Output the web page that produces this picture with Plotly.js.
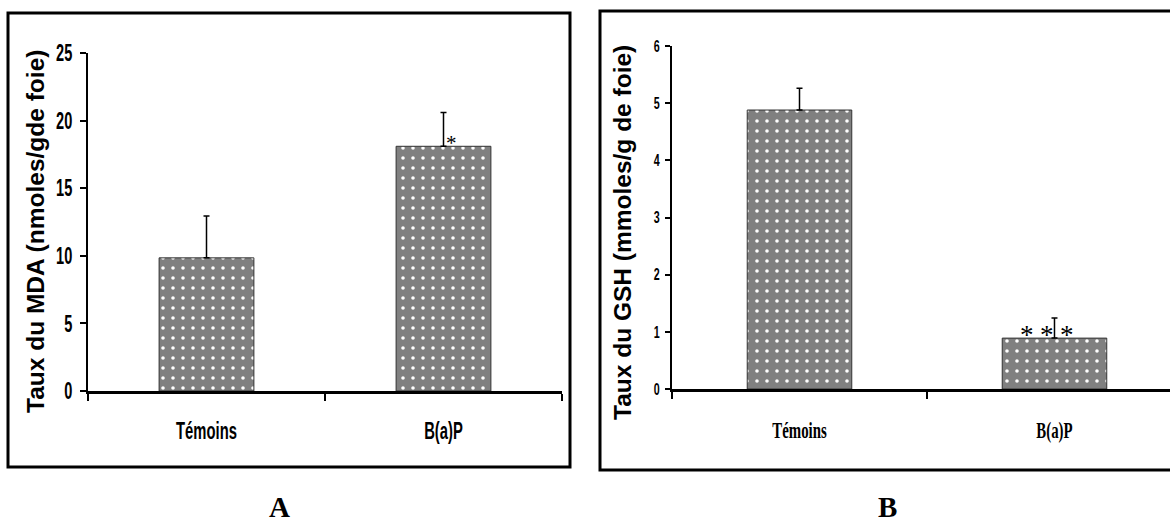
<!DOCTYPE html>
<html>
<head>
<meta charset="utf-8">
<script src="https://cdn.plot.ly/plotly-3.0.1.min.js"></script>
<style>html,body{margin:0;padding:0;background:#fff;}#chart{width:1170px;height:528px;}</style>
</head>
<body>
<div id="chart"></div>
<script>
// ---- data ----
var categories = ["Témoins", "B(a)P"];
var mdaValues = [9.85, 18.1];
var mdaErrors = [3.1, 2.5];
var gshValues = [4.88, 0.89];
var gshErrors = [0.38, 0.35];
var mdaTicks = [0, 5, 10, 15, 20, 25];
var gshTicks = [0, 1, 2, 3, 4, 5, 6];
var mdaTitle = "Taux du MDA (nmoles/gde foie)";
var gshTitle = "Taux du GSH (mmoles/g de foie)";
var panelLabels = ["A", "B"];

var W = 1170, H = 528;
function px(x) { return x / W; }
function py(y) { return (H - y) / H; }

var sans = "Liberation Sans, Arial, sans-serif";
var serif = "Liberation Serif, Times New Roman, serif";

var pattern = {shape: ".", fgcolor: "#ffffff", bgcolor: "#808080", size: 10, solidity: 0.1, fillmode: "replace"};

var traces = [
  {
    type: "bar", x: categories, y: mdaValues, xaxis: "x", yaxis: "y", width: 0.4,
    marker: {color: "#808080", pattern: pattern, line: {color: "#333", width: 1}},
    error_y: {type: "data", symmetric: false, array: mdaErrors, arrayminus: [0, 0], color: "#000", thickness: 1.5, width: 3},
    hoverinfo: "skip", showlegend: false
  },
  {
    type: "bar", x: categories, y: gshValues, xaxis: "x2", yaxis: "y2", width: 0.41,
    marker: {color: "#808080", pattern: pattern, line: {color: "#333", width: 1}},
    error_y: {type: "data", symmetric: false, array: gshErrors, arrayminus: [0, 0], color: "#000", thickness: 1.5, width: 3},
    hoverinfo: "skip", showlegend: false
  }
];

var boxLine = {color: "#000", width: 3};
var layout = {
  width: W, height: H,
  margin: {l: 0, r: 0, t: 0, b: 0},
  paper_bgcolor: "#fff", plot_bgcolor: "rgba(0,0,0,0)",
  showlegend: false,
  xaxis: {
    domain: [px(88), px(562)], anchor: "y", type: "category", range: [-0.5, 1.5],
    showline: true, linecolor: "#000", linewidth: 3, showgrid: false, zeroline: false,
    ticks: "outside", tickson: "boundaries", ticklen: 7, tickwidth: 2, tickcolor: "#000",
    tickfont: {family: sans, size: 23.5, color: "#000", weight: "bold"}, ticklabelstandoff: 17,
    fixedrange: true
  },
  yaxis: {
    domain: [py(391), py(53)], anchor: "x", range: [0, 25], tickvals: mdaTicks,
    showline: true, linecolor: "#000", linewidth: 2, showgrid: false, zeroline: false,
    ticks: "outside", ticklen: 6, tickwidth: 2, tickcolor: "#000",
    tickfont: {family: sans, size: 23.5, color: "#000", weight: "bold"}, ticklabelstandoff: 3,
    fixedrange: true
  },
  xaxis2: {
    domain: [px(672), 1], anchor: "y2", type: "category", range: [-0.5, 1.453],
    showline: true, linecolor: "#000", linewidth: 3, showgrid: false, zeroline: false,
    ticks: "outside", tickson: "boundaries", ticklen: 7, tickwidth: 2, tickcolor: "#000",
    tickfont: {family: serif, size: 22.5, color: "#000", weight: "bold"}, ticklabelstandoff: 19,
    fixedrange: true
  },
  yaxis2: {
    domain: [py(389), py(46)], anchor: "x2", range: [0, 6], tickvals: gshTicks,
    showline: true, linecolor: "#000", linewidth: 2, showgrid: false, zeroline: false,
    ticks: "outside", ticklen: 5, tickwidth: 2, tickcolor: "#000",
    tickfont: {family: sans, size: 16.5, color: "#000", weight: "bold"}, ticklabelstandoff: 2,
    fixedrange: true
  },
  shapes: [
    {type: "rect", xref: "paper", yref: "paper", x0: px(8), x1: px(570), y0: py(467), y1: py(13), line: boxLine},
    {type: "rect", xref: "paper", yref: "paper", x0: px(600), x1: px(1200), y0: py(470), y1: py(11), line: boxLine}
  ],
  annotations: [
    {xref: "paper", yref: "paper", x: px(35), y: py(232), xanchor: "center", yanchor: "middle", text: mdaTitle, textangle: -90, showarrow: false,
     font: {family: sans, size: 24.5, color: "#000", weight: "bold"}},
    {xref: "paper", yref: "paper", x: px(622), y: py(233), xanchor: "center", yanchor: "middle", text: gshTitle, textangle: -90, showarrow: false,
     font: {family: sans, size: 24.5, color: "#000", weight: "bold"}},
    {xref: "x", yref: "y", x: categories[1], y: mdaValues[1], text: "*", showarrow: false, xshift: 7.5, yshift: 3, xanchor: "center", yanchor: "middle",
     font: {family: serif, size: 21, color: "#000"}},
    {xref: "x2", yref: "y2", x: categories[1], y: gshValues[1], text: "*", showarrow: false, xshift: -27.5, yshift: 3, xanchor: "center", yanchor: "middle",
     font: {family: serif, size: 27, color: "#000"}},
    {xref: "x2", yref: "y2", x: categories[1], y: gshValues[1], text: "*", showarrow: false, xshift: -7.5, yshift: 3, xanchor: "center", yanchor: "middle",
     font: {family: serif, size: 27, color: "#000"}},
    {xref: "x2", yref: "y2", x: categories[1], y: gshValues[1], text: "*", showarrow: false, xshift: 12.5, yshift: 3, xanchor: "center", yanchor: "middle",
     font: {family: serif, size: 27, color: "#000"}},
    {xref: "paper", yref: "paper", x: px(279), y: py(507), xanchor: "center", yanchor: "middle", text: panelLabels[0], showarrow: false,
     font: {family: serif, size: 29, color: "#000", weight: "bold"}},
    {xref: "paper", yref: "paper", x: px(887), y: py(507), xanchor: "center", yanchor: "middle", text: panelLabels[1], showarrow: false,
     font: {family: serif, size: 29, color: "#000", weight: "bold"}}
  ]
};

// condense tick labels horizontally (the source figure uses narrow, tall lettering)
function condense(selector, sx) {
  document.querySelectorAll(selector).forEach(function (t) {
    var x = parseFloat(t.getAttribute("x")) || 0;
    var y = parseFloat(t.getAttribute("y")) || 0;
    var tr = t.getAttribute("transform") || "";
    t.setAttribute("transform", tr + " translate(" + x + "," + y + ") scale(" + sx + ",1) translate(" + (-x) + "," + (-y) + ")");
  });
}

Plotly.newPlot("chart", traces, layout, {displayModeBar: false, staticPlot: true}).then(function () {
  condense(".xtick text", 0.63);
  condense(".ytick text", 0.62);
  condense(".x2tick text", 0.66);
  condense(".y2tick text", 0.65);
});
</script>
</body>
</html>
